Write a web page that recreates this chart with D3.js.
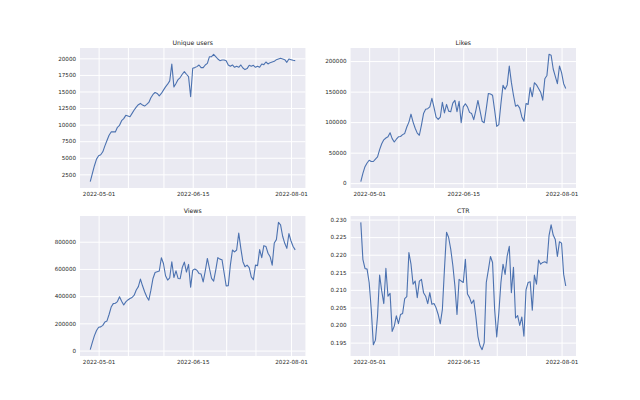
<!DOCTYPE html>
<html><head><meta charset="utf-8">
<script src="https://cdn.jsdelivr.net/npm/d3@7"></script>
<style>body{margin:0;background:#fff} svg{display:block} text{font-family:"DejaVu Sans",sans-serif}</style>
</head><body><svg id="c" width="640" height="400"></svg>
<script>
const startDate = "2022-04-27", endDate = "2022-08-03";
const uniqueUsers = [1400,2600,3800,4800,5300,5450,5900,6800,7600,8400,8900,8900,8900,9600,9900,10600,10900,11400,11300,11200,
11700,12200,12650,13000,13200,12950,12800,13050,13350,14050,14550,14850,14700,14350,14700,15200,15700,16100,16600,19150,
15700,16200,16800,17100,17600,18000,17600,17250,14200,18500,18600,18750,19000,18600,18600,19000,19250,20250,20250,20600,
20250,19900,19650,19750,19750,19650,19000,18800,19000,18650,18800,18650,19000,18550,18300,18450,18950,18800,18950,18650,
18800,18650,19150,19050,19450,19150,19350,19450,19550,19800,19900,20000,19900,19800,19400,19900,19800,19700,19650];
const likes = [2500,16000,27000,33000,37500,35500,35500,39500,43000,55000,64500,71000,74000,76000,82500,73000,67500,72000,76000,76500,
79500,81500,92000,100000,113000,100000,90000,82000,78500,95000,114000,121000,122000,125000,139000,124000,108000,104500,108000,132500,
115000,129000,118000,117000,131000,135500,117000,134000,99000,125000,130000,125000,116000,114000,104000,119000,135500,119000,101500,99000,
122000,147000,146000,144000,119500,93000,96000,130000,160500,154000,161000,192000,165000,144000,126000,128000,123000,108500,101500,130500,
129000,156500,141500,164500,161000,155000,149000,136000,171000,176500,211000,209500,187000,175000,163000,192000,181000,163000,155000];
const views = [7000,60000,110000,148000,172000,174000,185000,210000,218000,265000,320000,345000,348000,360000,395000,363000,335000,358000,372000,383000,
390000,407000,445000,470000,525000,476000,432000,395000,370000,444000,530000,574000,579000,584000,682000,640000,550000,518000,535000,653000,
537000,586000,530000,528000,610000,650000,577000,633000,466000,591000,599000,590000,567000,562000,505000,585000,677000,603000,530000,510000,
591000,683000,672000,668000,572000,475000,477000,628000,739000,725000,739000,863000,751000,653000,616000,628000,610000,542000,520000,628000,
624000,742000,683000,771000,765000,715000,690000,628000,790000,815000,942000,923000,840000,788000,751000,860000,805000,765000,740000];
const ctr = [0.2292,0.2187,0.2161,0.2159,0.2121,0.2044,0.1944,0.1957,0.2025,0.2142,0.2097,0.2061,0.2161,0.2082,0.2090,0.1982,0.1997,0.2026,0.2004,0.2030,
0.2033,0.2075,0.2081,0.2206,0.2173,0.2116,0.2125,0.2078,0.2125,0.2130,0.2092,0.2082,0.2061,0.2092,0.2059,0.2061,0.2049,0.2030,0.2004,0.2044,
0.2159,0.2264,0.2249,0.2216,0.2170,0.2111,0.2030,0.2130,0.2125,0.2121,0.2187,0.2088,0.2078,0.2061,0.2071,0.2025,0.1968,0.1941,0.1930,0.1949,
0.2121,0.2157,0.2195,0.2178,0.2044,0.1966,0.2035,0.2121,0.2173,0.2144,0.2197,0.2224,0.2092,0.2164,0.2020,0.2027,0.1999,0.2023,0.1968,0.2100,
0.2121,0.2123,0.2042,0.2142,0.2116,0.2185,0.2173,0.2178,0.2180,0.2176,0.2254,0.2285,0.2256,0.2243,0.2195,0.2237,0.2233,0.2144,0.2111];
const gridDates = ["2022-05-01","2022-05-15","2022-06-01","2022-06-15","2022-07-01","2022-07-15","2022-08-01"];
const labelDates = ["2022-05-01","2022-06-15","2022-08-01"];
const usersTicks = [2500,5000,7500,10000,12500,15000,17500,20000];
const likesTicks = [0,50000,100000,150000,200000];
const viewsTicks = [0,200000,400000,600000,800000];
const ctrTicks = [0.195,0.200,0.205,0.210,0.215,0.220,0.225,0.230];
const titles = ["Unique users","Likes","Views","CTR"];

const parse = d3.timeParse("%Y-%m-%d");
const dates = d3.timeDay.range(parse(startDate), d3.timeDay.offset(parse(endDate), 1));
const panels = [
  {title: titles[0], values: uniqueUsers, ticks: usersTicks, fmt: d3.format("d"), col: 0, row: 0},
  {title: titles[1], values: likes, ticks: likesTicks, fmt: d3.format("d"), col: 1, row: 0},
  {title: titles[2], values: views, ticks: viewsTicks, fmt: d3.format("d"), col: 0, row: 1},
  {title: titles[3], values: ctr, ticks: ctrTicks, fmt: d3.format(".3f"), col: 1, row: 1}
];
const W = 225.45, H = 140, lefts = [80, 350.55], tops = [48, 216];
const svg = d3.select("#c");
svg.append("rect").attr("width", 640).attr("height", 400).attr("fill", "#fff");

function padded(ext) { const p = (ext[1] - ext[0]) * 0.05; return [ext[0] - p, ext[1] + p]; }

panels.forEach(p => {
  const g = svg.append("g").attr("transform", `translate(${lefts[p.col]},${tops[p.row]})`);
  const te = d3.extent(dates).map(d => +d);
  const x = d3.scaleTime().domain(padded(te).map(v => new Date(v))).range([0, W]);
  const y = d3.scaleLinear().domain(padded(d3.extent(p.values))).range([H, 0]);
  g.append("rect").attr("width", W).attr("height", H).attr("fill", "#eaeaf2");
  // grid
  const gx = g.append("g").attr("transform", `translate(0,${H})`)
    .call(d3.axisBottom(x).tickValues(gridDates.map(parse)).tickSize(-H).tickFormat(""));
  const gy = g.append("g").call(d3.axisLeft(y).tickValues(p.ticks).tickSize(-W).tickFormat(""));
  [gx, gy].forEach(a => { a.select(".domain").remove(); a.selectAll("line").attr("stroke", "#fff").attr("stroke-width", 1); });
  // labels
  const lx = g.append("g").attr("transform", `translate(0,${H})`)
    .call(d3.axisBottom(x).tickValues(labelDates.map(parse)).tickSize(0).tickPadding(4).tickFormat(d3.timeFormat("%Y-%m-%d")));
  const ly = g.append("g").call(d3.axisLeft(y).tickValues(p.ticks).tickSize(0).tickPadding(4).tickFormat(p.fmt));
  [lx, ly].forEach(a => { a.select(".domain").remove(); a.selectAll("text").attr("fill", "#262626").style("font-size", "5.6px").style("font-family", "DejaVu Sans"); });
  // line
  const line = d3.line().x((d, i) => x(dates[i])).y(d => y(d));
  g.append("path").datum(p.values).attr("d", line).attr("fill", "none").attr("stroke", "#4c72b0").attr("stroke-width", 1.1).attr("stroke-linejoin", "round");
  g.append("text").attr("x", W / 2).attr("y", -3.5).attr("text-anchor", "middle").attr("fill", "#262626")
    .style("font-size", "6.2px").text(p.title);
});
</script></body></html>
